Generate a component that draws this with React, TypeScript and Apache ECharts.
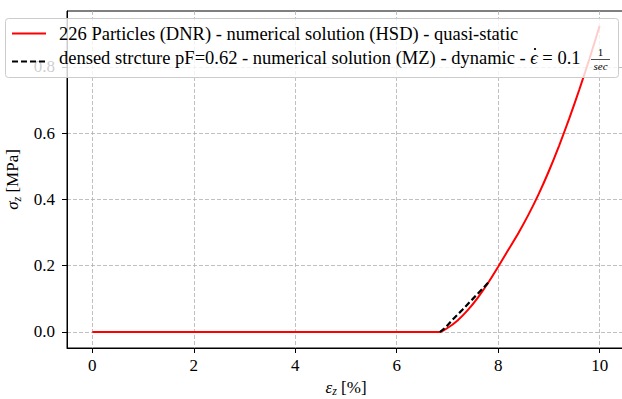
import React, { useEffect, useRef } from "react";
import * as echarts from "echarts";

const seriesNames = [
  "226 Particles (DNR) - numerical solution (HSD) - quasi-static",
  "densed strcture pF=0.62 - numerical solution (MZ) - dynamic - ",
];

const xTicks = [0, 2, 4, 6, 8, 10];
const yTicks = [0, 0.2, 0.4, 0.6, 0.8];

const hsdStrain = [0, 6.85, 7.0, 7.2, 7.4, 7.6, 7.8, 8.0, 8.2, 8.4, 8.6, 8.8, 9.0, 9.2, 9.4, 9.6, 9.8, 10.0];
const hsdStress = [0, 0, 0.012, 0.035, 0.066, 0.104, 0.148, 0.197, 0.248, 0.299, 0.355, 0.417, 0.486, 0.562, 0.644, 0.732, 0.825, 0.924];

const mzStrain = [6.85, 6.95, 7.1, 7.3, 7.5, 7.7, 7.82];
const mzStress = [0, 0.012, 0.037, 0.068, 0.1, 0.132, 0.152];

const FONT = "Liberation Serif, serif";
const LEG = 18.5;

export default function App() {
  const ref = useRef<HTMLDivElement>(null);
  useEffect(() => {
    document.body.style.margin = "0";
    if (!ref.current) return;
    const chart = echarts.init(ref.current, null, { renderer: "svg" });
    const gridLine = { show: true, lineStyle: { color: "#b0b0b0", type: [4, 2], width: 0.8 } };
    const richName = {
      i: { fontStyle: "italic", fontSize: 17, fontFamily: FONT, color: "#000" },
      s: { fontStyle: "italic", fontSize: 12, fontFamily: FONT, color: "#000", padding: [8, 0, 0, 0] },
      t: { fontSize: 17, fontFamily: FONT, color: "#000" },
    };
    const option: any = {
      animation: false,
      backgroundColor: "#fff",
      textStyle: { fontFamily: FONT },
      grid: {
        left: 67, top: 11, width: 558, height: 337,
        show: true, borderColor: "#000", borderWidth: 1,
        containLabel: false, outerBoundsMode: "none",
      },
      xAxis: {
        type: "value",
        min: -0.5,
        max: 10.5,
        axisLine: { show: true, onZero: false, lineStyle: { color: "#000", width: 1 } },
        axisTick: { show: true, length: 5, customValues: xTicks, lineStyle: { color: "#000" } },
        axisLabel: { customValues: xTicks, color: "#000", fontSize: 17, fontFamily: FONT, margin: 9 },
        splitLine: gridLine,
        name: "{i|ε}{s|z}{t| [%]}",
        nameLocation: "middle",
        nameGap: 28,
        nameTextStyle: { color: "#000", fontSize: 17, fontFamily: FONT, rich: richName },
      },
      yAxis: {
        type: "value",
        min: -0.0483,
        max: 0.969,
        axisLine: { show: true, onZero: false, lineStyle: { color: "#000", width: 1 } },
        axisTick: { show: true, length: 5, customValues: yTicks, lineStyle: { color: "#000" } },
        axisLabel: { customValues: yTicks, color: "#000", fontSize: 17, fontFamily: FONT, margin: 12, formatter: (v: number) => v.toFixed(1) },
        splitLine: gridLine,
        name: "{i|σ}{s|z}{t| [MPa]}",
        nameLocation: "middle",
        nameGap: 43,
        nameRotate: 90,
        nameTextStyle: { color: "#000", fontSize: 17, fontFamily: FONT, rich: richName },
      },
      series: [
        {
          name: seriesNames[0],
          type: "line",
          data: hsdStrain.map((x, i) => [x, hsdStress[i]]),
          showSymbol: false,
          smooth: 0.2,
          lineStyle: { color: "#ff0000", width: 2 },
          z: 2,
        },
        {
          name: seriesNames[1],
          type: "line",
          data: mzStrain.map((x, i) => [x, mzStress[i]]),
          showSymbol: false,
          lineStyle: { color: "#000", width: 2.2, type: [6, 3] },
          z: 3,
        },
      ],
      graphic: [
        {
          type: "group",
          z: 100,
          children: [
            { type: "rect", shape: { x: 5.5, y: 18.5, width: 613, height: 59, r: 3 }, style: { fill: "rgba(255,255,255,0.8)", stroke: "#cccccc", lineWidth: 1 }, z: 100 },
            { type: "line", shape: { x1: 12, y1: 33.5, x2: 46, y2: 33.5 }, style: { stroke: "#ff0000", lineWidth: 2 }, z: 101 },
            { type: "line", shape: { x1: 12, y1: 61.5, x2: 46, y2: 61.5 }, style: { stroke: "#000", lineWidth: 2.2, lineDash: [6, 3] }, z: 101 },
            { type: "text", x: 59, y: 33.5, style: { text: seriesNames[0], fontSize: LEG, fontFamily: FONT, fill: "#000", verticalAlign: "middle" }, z: 101 },
            {
              type: "text",
              x: 59,
              y: 57.5,
              style: {
                text: `{t|${seriesNames[1]}}{i|ϵ}{t| = 0.1}`,
                fontSize: LEG,
                fontFamily: FONT,
                fill: "#000",
                verticalAlign: "middle",
                rich: {
                  t: { fontSize: LEG, fontFamily: FONT, fill: "#000" },
                  i: { fontSize: LEG, fontFamily: FONT, fontStyle: "italic", fill: "#000" },
                },
              },
              z: 101,
            },
            { type: "circle", shape: { cx: 535, cy: 49, r: 1.1 }, style: { fill: "#000" }, z: 101 },
            { type: "text", x: 600.5, y: 52, style: { text: "1", fontSize: 11, fontFamily: FONT, fill: "#000", align: "center", verticalAlign: "middle" }, z: 101 },
            { type: "line", shape: { x1: 591, y1: 59.5, x2: 610, y2: 59.5 }, style: { stroke: "#000", lineWidth: 0.7 }, z: 101 },
            { type: "text", x: 600.5, y: 66, style: { text: "sec", fontSize: 11, fontFamily: FONT, fontStyle: "italic", fill: "#000", align: "center", verticalAlign: "middle" }, z: 101 },
          ],
        },
      ],
    };
    chart.setOption(option);
    return () => chart.dispose();
  }, []);
  return <div ref={ref} style={{ position: "fixed", left: 0, top: 0, width: 622, height: 399 }} />;
}
